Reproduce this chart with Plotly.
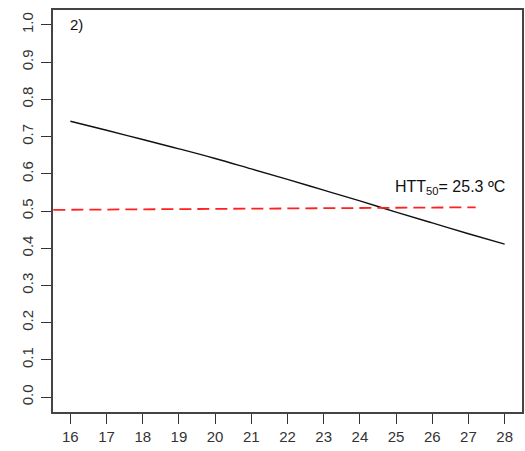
import plotly.graph_objects as go

# Temperature (ºC) and predicted proportion along the fitted curve
temperature = [16, 17, 18, 19, 20, 21, 22, 23, 24, 25, 26, 27, 28]
proportion = [0.741, 0.717, 0.692, 0.667, 0.641, 0.613, 0.585, 0.556,
              0.527, 0.497, 0.468, 0.439, 0.411]

# 50 % reference line (red, dashed)
ref_x = [15.53, 27.2]
ref_y = [0.503, 0.510]

x_ticks = list(range(16, 29))
y_ticks = [0.0, 0.1, 0.2, 0.3, 0.4, 0.5, 0.6, 0.7, 0.8, 0.9, 1.0]
y_tick_text = [f"{v:.1f}" for v in y_ticks]

htt50_label = "HTT<sub>50</sub>= 25.3 ºC"
panel_label = "2)"

font_family = "Liberation Sans, Arial, sans-serif"

fig = go.Figure()
fig.add_trace(go.Scatter(
    x=temperature, y=proportion, mode="lines",
    line=dict(color="#111111", width=1.4, shape="spline"),
    showlegend=False, hoverinfo="skip",
))
fig.add_trace(go.Scatter(
    x=ref_x, y=ref_y, mode="lines",
    line=dict(color="#ff2020", width=1.8, dash="12px,6px"),
    showlegend=False, hoverinfo="skip",
))

fig.add_annotation(
    x=24.92, y=0.564, xref="x", yref="y", text=htt50_label,
    showarrow=False, xanchor="left", yanchor="middle",
    font=dict(family=font_family, size=16, color="#111111"),
)
fig.add_annotation(
    x=0.0325, y=0.963, xref="paper", yref="paper", text=panel_label,
    showarrow=False, xanchor="left", yanchor="middle",
    font=dict(family=font_family, size=15, color="#111111"),
)

axis_common = dict(
    showgrid=False, zeroline=False, showline=True, mirror=True,
    linecolor="#444444", linewidth=1.5,
    ticks="outside", ticklen=10, tickwidth=1.2, tickcolor="#333333",
    tickfont=dict(family=font_family, size=15, color="#333333"),
)

fig.update_layout(
    width=525, height=451,
    margin=dict(l=53, r=1, t=10, b=39),
    paper_bgcolor="white", plot_bgcolor="white",
    xaxis=dict(range=[15.52, 28.48], tickvals=x_ticks, **axis_common),
    yaxis=dict(range=[-0.04, 1.04], tickvals=y_ticks, ticktext=y_tick_text,
               tickangle=-90, ticklabelstandoff=2, **axis_common),
)

fig.write_html("out.html")
